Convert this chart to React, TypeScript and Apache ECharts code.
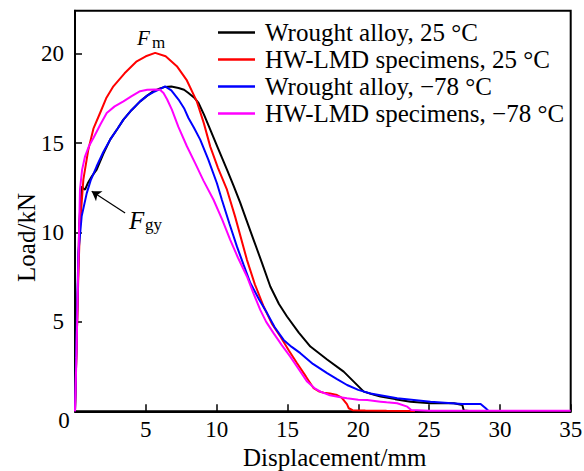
import React, { useEffect, useRef } from "react";
import * as echarts from "echarts";

const FONT = "Times New Roman";

const seriesNames = [
  "Wrought alloy, 25 °C",
  "HW-LMD specimens, 25 °C",
  "Wrought alloy, \u221278 °C",
  "HW-LMD specimens, \u221278 °C",
];
const seriesColors = ["#000000", "#ff0000", "#0000ff", "#ff00ff"];

const xTicks = [0, 5, 10, 15, 20, 25, 30, 35];
const yTicks = [0, 5, 10, 15, 20];

// Wrought alloy, 25 °C
const wrought25X = [0, 0.15, 0.3, 0.47, 0.6, 0.71, 0.9, 1.2, 1.53, 2.0, 2.48, 3.0, 3.42, 4.0, 4.6, 5.1, 5.54, 6.0, 6.36, 6.8, 7.31, 7.7, 8.01, 8.4, 8.72, 9.1, 9.55, 10.1, 10.73, 11.2, 11.67, 12.1, 12.61, 13.2, 13.79, 14.4, 14.97, 15.8, 16.62, 17.8, 18.97, 19.68, 20.39, 21.0, 21.57, 22.6, 23.69, 25.1, 26.75, 27.35, 27.45, 28.0];
const wrought25Y = [0, 5.0, 10.5, 12.58, 12.45, 12.39, 12.75, 13.15, 13.51, 14.4, 15.19, 15.8, 16.31, 16.85, 17.33, 17.65, 17.9, 18.05, 18.14, 18.16, 18.08, 17.98, 17.8, 17.55, 17.24, 16.6, 15.75, 14.7, 13.51, 12.6, 11.65, 10.7, 9.59, 8.3, 6.98, 6.0, 5.3, 4.4, 3.62, 2.9, 2.22, 1.66, 1.1, 0.95, 0.82, 0.68, 0.54, 0.45, 0.45, 0.35, 0.05, 0];

// HW-LMD specimens, 25 °C
const hwlmd25X = [0, 0.12, 0.25, 0.35, 0.59, 0.94, 1.3, 1.77, 2.2, 2.71, 3.5, 4.36, 5.0, 5.66, 6.4, 7.19, 7.9, 8.6, 9.1, 9.55, 10.1, 10.73, 11.3, 12.14, 12.7, 13.32, 13.9, 14.5, 15.1, 15.68, 16.3, 16.85, 17.2, 17.56, 18.0, 18.5, 18.8, 18.97, 19.2, 19.33, 19.6, 20.5, 22.0, 24.0];
const hwlmd25Y = [0, 4.0, 8.0, 10.34, 12.95, 14.63, 15.8, 16.68, 17.5, 18.17, 18.9, 19.57, 19.85, 20.04, 19.85, 19.3, 18.5, 17.33, 16.1, 14.8, 13.6, 12.39, 10.9, 8.47, 7.1, 5.86, 4.9, 4.18, 3.4, 2.69, 1.95, 1.29, 1.12, 1.04, 1.0, 0.91, 0.78, 0.63, 0.4, 0.17, 0.06, 0.04, 0.03, 0.02];

// Wrought alloy, −78 °C
const wroughtM78X = [0, 0.1, 0.24, 0.47, 0.83, 1.1, 1.53, 2.0, 2.48, 3.0, 3.42, 4.0, 4.6, 5.1, 5.54, 6.0, 6.36, 6.8, 7.31, 7.7, 8.01, 8.4, 8.84, 9.4, 10.02, 10.37, 10.9, 11.43, 11.9, 12.38, 13.0, 13.56, 14.1, 14.73, 15.3, 15.91, 16.8, 17.8, 18.5, 19.21, 20.0, 20.86, 22.75, 25.1, 27.35, 28.64, 29.0, 29.2];
const wroughtM78Y = [0, 4.0, 8.86, 10.9, 12.2, 12.9, 13.7, 14.5, 15.19, 15.8, 16.31, 16.85, 17.33, 17.65, 17.85, 18.02, 18.17, 17.95, 17.43, 16.95, 16.4, 15.85, 15.19, 14.1, 12.75, 11.83, 10.5, 9.22, 8.2, 7.17, 6.25, 5.49, 4.7, 3.99, 3.6, 3.25, 2.65, 2.13, 1.8, 1.47, 1.2, 1.0, 0.73, 0.54, 0.41, 0.41, 0.17, 0.02];

// HW-LMD specimens, −78 °C
const hwlmdM78X = [0, 0.1, 0.2, 0.35, 0.5, 0.71, 1.0, 1.3, 1.8, 2.24, 2.8, 3.42, 4.0, 4.6, 5.1, 5.66, 6.0, 6.25, 6.5, 6.84, 7.3, 7.9, 8.5, 9.07, 9.78, 10.4, 10.96, 11.5, 12.14, 12.6, 13.08, 13.5, 14.02, 14.6, 15.2, 15.8, 16.39, 16.9, 17.33, 18.0, 18.74, 19.2, 20.0, 20.63, 21.57, 22.0, 22.75, 23.46, 23.74, 25.0, 30.0, 35.0];
const hwlmdM78Y = [0, 3.0, 7.0, 12.39, 13.5, 14.26, 14.85, 15.28, 16.05, 16.68, 17.05, 17.33, 17.62, 17.9, 17.98, 17.99, 17.98, 17.8, 17.45, 16.87, 15.9, 14.82, 13.85, 12.9, 11.83, 10.7, 9.59, 8.6, 7.54, 6.6, 5.67, 5.0, 4.37, 3.7, 3.06, 2.35, 1.66, 1.3, 1.1, 0.9, 0.78, 0.73, 0.65, 0.63, 0.54, 0.5, 0.45, 0.26, 0.07, 0.03, 0.03, 0.03];

const zip = (xs: number[], ys: number[]) => xs.map((x, i) => [x, ys[i]]);
const seriesData = [
  zip(wrought25X, wrought25Y),
  zip(hwlmd25X, hwlmd25Y),
  zip(wroughtM78X, wroughtM78Y),
  zip(hwlmdM78X, hwlmdM78Y),
];

// arrow pointing to F_gy (data coordinates)
const arrowFrom = [3.54, 11.09];
const arrowTo = [1.18, 12.3];

export default function App() {
  const ref = useRef<HTMLDivElement>(null);
  useEffect(() => {
    if (!ref.current) return;
    const chart = echarts.init(ref.current, null, { renderer: "svg" });
    const series: any[] = seriesNames.map((name, i) => ({
      name,
      type: "line",
      data: seriesData[i],
      color: seriesColors[i],
      showSymbol: false,
      symbol: "none",
      lineStyle: { width: 2, color: seriesColors[i] },
      z: 3,
    }));
    series[0].markLine = {
      silent: true,
      symbol: ["none", "arrow"],
      symbolSize: 9,
      label: { show: false },
      lineStyle: { color: "#000", width: 1.2, type: "solid" },
      data: [[{ coord: arrowFrom }, { coord: arrowTo }]],
    };
    const txt = (text: string, x: number, y: number, size: number, extra: any = {}) => ({
      type: "text",
      x,
      y,
      ...(extra.rotation !== undefined ? { rotation: extra.rotation } : {}),
      style: {
        text,
        fontFamily: FONT,
        fontSize: size,
        fontStyle: extra.italic ? "italic" : "normal",
        fill: "#000",
        align: extra.align || "left",
        verticalAlign: "middle",
      },
    });
    chart.setOption({
      animation: false,
      backgroundColor: "#ffffff",
      textStyle: { fontFamily: FONT },
      grid: {
        left: 75,
        right: 13.3,
        top: 10.7,
        bottom: 59.7,
        containLabel: false,
        outerBoundsMode: "none",
        show: true,
        borderColor: "#000",
        borderWidth: 2,
        backgroundColor: "transparent",
      },
      legend: {
        orient: "vertical",
        left: 213,
        top: 15,
        icon: "rect",
        itemWidth: 37,
        itemHeight: 2.5,
        itemGap: 2,
        textStyle: {
          fontFamily: FONT,
          fontSize: 25,
          lineHeight: 25,
          color: "#000",
          padding: [0, 0, 0, 5],
        },
        data: seriesNames,
      },
      xAxis: {
        type: "value",
        min: xTicks[0],
        max: xTicks[xTicks.length - 1],
        interval: 5,
        splitLine: { show: false },
        axisLine: { show: true, onZero: false, lineStyle: { color: "#000", width: 2 } },
        axisTick: { show: true, inside: true, length: 7, lineStyle: { color: "#000", width: 1.5 } },
        axisLabel: {
          showMinLabel: false,
          margin: 7,
          fontFamily: FONT,
          fontSize: 23,
          color: "#000",
        },
      },
      yAxis: {
        type: "value",
        min: yTicks[0],
        max: 22.4,
        interval: 5,
        splitLine: { show: false },
        axisLine: { show: true, onZero: false, lineStyle: { color: "#000", width: 2 } },
        axisTick: { show: true, inside: true, length: 7, lineStyle: { color: "#000", width: 1.5 } },
        axisLabel: {
          showMinLabel: false,
          showMaxLabel: false,
          margin: 11,
          fontFamily: FONT,
          fontSize: 23,
          color: "#000",
        },
      },
      graphic: [
        txt("0", 64, 420, 23, { align: "center" }),
        txt("Displacement/mm", 334.7, 457, 25, { align: "center" }),
        txt("Load/kN", 26, 237.5, 25, { align: "center", rotation: Math.PI / 2 }),
        txt("F", 137, 37.5, 21, { italic: true }),
        txt("m", 152, 42.5, 17),
        txt("F", 129, 220, 25, { italic: true }),
        txt("gy", 145, 224, 17),
      ],
      series,
    });
    return () => chart.dispose();
  }, []);
  return (
    <div
      ref={ref}
      style={{ position: "absolute", left: 0, top: 0, width: 584, height: 471, background: "#fff" }}
    />
  );
}
